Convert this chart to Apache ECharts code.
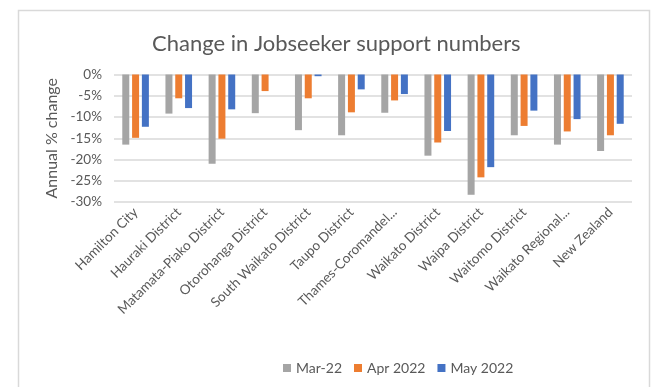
<!DOCTYPE html>
<html>
<head>
<meta charset="utf-8">
<script src="https://cdn.jsdelivr.net/npm/echarts@6/dist/echarts.min.js"></script>
<style>
  html, body { margin: 0; padding: 0; background: #fff; }
  #chart { width: 653px; height: 387px; }
</style>
</head>
<body>
<div id="chart"></div>
<script>
    // data
    var categories = ['Hamilton City', 'Hauraki District', 'Matamata-Piako District', 'Otorohanga District',
        'South Waikato District', 'Taupo District', 'Thames-Coromandel...', 'Waikato District',
        'Waipa District', 'Waitomo District', 'Waikato Regional...', 'New Zealand'];
    var seriesNames = ['Mar-22', 'Apr 2022', 'May 2022'];
    var mar22 = [-16.5, -9.2, -21.0, -9.1, -13.1, -14.3, -9.0, -19.1, -28.3, -14.3, -16.5, -18.0];
    var apr22 = [-14.9, -5.6, -15.1, -3.9, -5.6, -8.9, -6.1, -16.0, -24.2, -12.1, -13.4, -14.3];
    var may22 = [-12.3, -7.9, -8.2, 0, -0.4, -3.5, -4.6, -13.3, -21.8, -8.5, -10.5, -11.6];
    var colors = ['#a5a5a5', '#ed7d31', '#4472c4'];

    var font = 'Lato, "Liberation Sans", sans-serif';
    var myChart = echarts.init(document.getElementById('chart'));

    var mkSeries = function (name, data, idx) {
        return {
            name: name,
            type: 'bar',
            data: data,
            barWidth: 7,
            barGap: '40%',
            itemStyle: { color: colors[idx] }
        };
    };

    var option = {
        animation: false,
        textStyle: { fontFamily: font },
        title: {
            text: 'Change in Jobseeker support numbers',
            left: 147,
            top: 28,
            textStyle: { fontSize: 22, fontWeight: 'normal', color: '#595959', fontFamily: font }
        },
        graphic: [{
            type: 'rect',
            shape: { x: 18.5, y: 10.5, width: 631, height: 390 },
            style: { fill: 'none', stroke: '#d9d9d9', lineWidth: 1.5 },
            silent: true
        }],
        legend: {
            data: seriesNames,
            left: 278,
            top: 356,
            itemWidth: 8,
            itemHeight: 8,
            itemGap: 12,
            icon: 'rect',
            textStyle: { fontSize: 14, color: '#595959', fontFamily: font }
        },
        grid: { left: 114, right: 21, top: 74.5, bottom: 185 },
        xAxis: {
            type: 'category',
            data: categories,
            axisLine: { onZero: false, show: false },
            axisTick: { show: false },
            axisLabel: { rotate: 45, fontSize: 13.5, color: '#595959', margin: 8, interval: 0 }
        },
        yAxis: {
            type: 'value',
            min: -30,
            max: 0,
            interval: 5,
            name: 'Annual % change',
            nameLocation: 'middle',
            nameGap: 50,
            nameTextStyle: { fontSize: 16, color: '#595959' },
            axisLabel: { formatter: '{value}%', fontSize: 13.5, color: '#595959', margin: 12 },
            splitLine: { lineStyle: { color: '#d9d9d9', width: 1.5 } }
        },
        series: [
            mkSeries(seriesNames[0], mar22, 0),
            mkSeries(seriesNames[1], apr22, 1),
            mkSeries(seriesNames[2], may22, 2)
        ]
    };

    myChart.setOption(option, true);
</script>
</body>
</html>
